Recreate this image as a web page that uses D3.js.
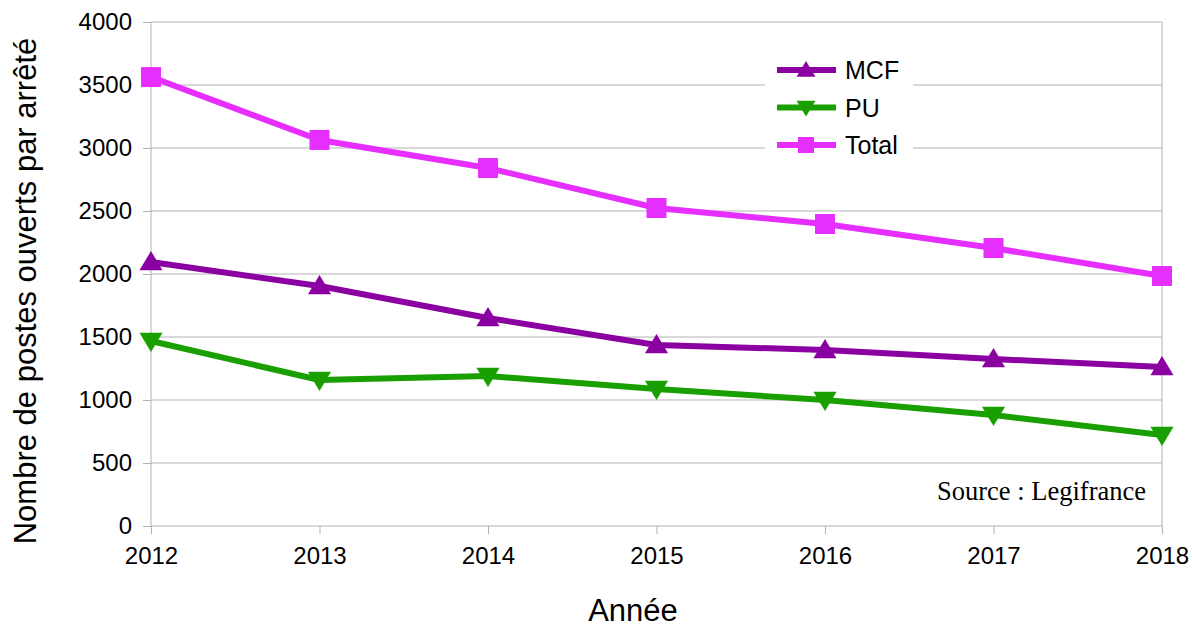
<!DOCTYPE html>
<html>
<head>
<meta charset="utf-8">
<script src="https://cdn.jsdelivr.net/npm/d3@7"></script>
<style>
  body { margin: 0; background: #fff; }
  text { font-family: "Liberation Sans", Arial, sans-serif; }
</style>
</head>
<body>
<div id="chart"></div>
<script>
// data
var years = [2012, 2013, 2014, 2015, 2016, 2017, 2018];
var mcf   = [2095, 1905, 1651, 1437, 1397, 1325, 1262];
var pu    = [1468, 1159, 1190, 1087, 1000,  881,  722];
var total = [3563, 3064, 2841, 2524, 2397, 2206, 1984];
var yTicks = [0, 500, 1000, 1500, 2000, 2500, 3000, 3500, 4000];

var series = [
  {name: "MCF",   values: mcf,   color: "#8b00a0", symbol: "up"},
  {name: "PU",    values: pu,    color: "#19a000", symbol: "down"},
  {name: "Total", values: total, color: "#e62eff", symbol: "square"}
];

var W = 1193, H = 629;
var margin = {top: 22, right: 31, bottom: 103, left: 151},
    width = W - margin.left - margin.right,
    height = H - margin.top - margin.bottom;

var svg = d3.select("#chart")
  .append("svg")
    .attr("width", W)
    .attr("height", H);

var g = svg.append("g")
    .attr("transform", "translate(" + margin.left + "," + margin.top + ")");

var x = d3.scalePoint().domain(years).range([0, width]);
var y = d3.scaleLinear().domain([0, 4000]).range([height, 0]);

// horizontal grid
g.append("g")
  .selectAll("line")
  .data(yTicks)
  .enter()
  .append("line")
    .attr("x1", 0).attr("x2", width)
    .attr("y1", function(d) { return y(d); })
    .attr("y2", function(d) { return y(d); })
    .attr("stroke", "#b3b3b3")
    .attr("stroke-width", 1);

// left and right frame lines
g.append("line").attr("x1", 0).attr("x2", 0).attr("y1", 0).attr("y2", height)
  .attr("stroke", "#b3b3b3");
g.append("line").attr("x1", width).attr("x2", width).attr("y1", 0).attr("y2", height)
  .attr("stroke", "#b3b3b3");

// y axis
var yAxis = g.append("g")
  .call(d3.axisLeft(y).tickValues(yTicks).tickFormat(d3.format("d")).tickSize(8).tickPadding(11));
yAxis.select(".domain").remove();
yAxis.selectAll("line").attr("stroke", "#b3b3b3");
yAxis.selectAll("text").style("font-size", "24px").attr("fill", "#000")
  .style("font-family", "Liberation Sans, Arial, sans-serif");

// x axis
var xAxis = g.append("g")
  .attr("transform", "translate(0," + height + ")")
  .call(d3.axisBottom(x).tickFormat(d3.format("d")).tickSize(8).tickPadding(13));
xAxis.select(".domain").remove();
xAxis.selectAll("line").attr("stroke", "#b3b3b3");
xAxis.selectAll("text").style("font-size", "24px").attr("fill", "#000")
  .style("font-family", "Liberation Sans, Arial, sans-serif");

// axis titles
svg.append("text")
  .attr("transform", "translate(36," + (margin.top + height / 2 + 17) + ") rotate(-90)")
  .attr("text-anchor", "middle")
  .style("font-size", "31px")
  .text("Nombre de postes ouverts par arrêté");

svg.append("text")
  .attr("x", 633)
  .attr("y", 621)
  .attr("text-anchor", "middle")
  .style("font-size", "31px")
  .text("Année");

// source note
g.append("text")
  .attr("x", width - 16)
  .attr("y", y(210))
  .attr("text-anchor", "end")
  .style("font-size", "26.5px")
  .style("font-family", "Liberation Serif, Times New Roman, serif")
  .text("Source : Legifrance");

function symbolPath(kind, s) {
  if (kind === "up") return "M0," + (-s) + "L" + (s * 1.05) + "," + (s * 0.75) + "L" + (-s * 1.05) + "," + (s * 0.75) + "Z";
  if (kind === "down") return "M0," + s + "L" + (s * 1.05) + "," + (-s * 0.75) + "L" + (-s * 1.05) + "," + (-s * 0.75) + "Z";
  return "M" + (-s) + "," + (-s) + "h" + (2 * s) + "v" + (2 * s) + "h" + (-2 * s) + "Z";
}

var line = d3.line()
  .x(function(d, i) { return x(years[i]); })
  .y(function(d) { return y(d); });

series.forEach(function(s) {
  g.append("path")
    .datum(s.values)
    .attr("fill", "none")
    .attr("stroke", s.color)
    .attr("stroke-width", 6)
    .attr("stroke-linejoin", "round")
    .attr("d", line);

  g.append("g")
    .selectAll("path")
    .data(s.values)
    .enter()
    .append("path")
      .attr("transform", function(d, i) { return "translate(" + x(years[i]) + "," + y(d) + ")"; })
      .attr("d", symbolPath(s.symbol, s.symbol === "square" ? 10 : 11))
      .attr("fill", s.color);
});

// legend
var legend = svg.append("g");
legend.append("rect")
  .attr("x", 765).attr("y", 55).attr("width", 148).attr("height", 105)
  .attr("fill", "#fff");

var rows = legend.selectAll("g")
  .data(series)
  .enter()
  .append("g")
    .attr("transform", function(d, i) { return "translate(0," + (70 + i * 37.5) + ")"; });

rows.append("line")
  .attr("x1", 777).attr("x2", 836).attr("y1", 0).attr("y2", 0)
  .attr("stroke", function(d) { return d.color; })
  .attr("stroke-width", 6);
rows.append("path")
  .attr("transform", "translate(806,0)")
  .attr("d", function(d) { return symbolPath(d.symbol, d.symbol === "square" ? 8 : 9); })
  .attr("fill", function(d) { return d.color; });
rows.append("text")
  .attr("x", 845).attr("y", 9)
  .style("font-size", "25px")
  .text(function(d) { return d.name; });
</script>
</body>
</html>
